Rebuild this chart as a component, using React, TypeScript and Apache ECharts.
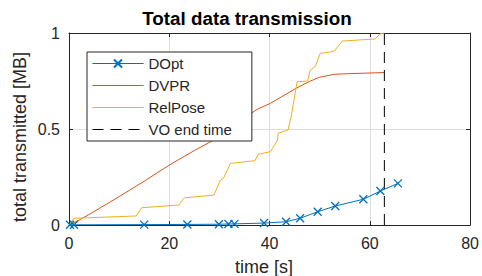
import React, { useEffect, useRef } from "react";
import * as echarts from "echarts";

const titleText = "Total data transmission";
const xLabel = "time [s]";
const yLabel = "total transmitted [MB]";
const seriesNames = ["DOpt", "DVPR", "RelPose", "VO end time"];

const doptX = [0.2, 1.0, 15.0, 23.6, 29.9, 31.8, 33.0, 38.9, 43.3, 46.1, 49.6, 53.1, 58.7, 62.1, 65.6];
const doptY = [0.001, 0.001, 0.002, 0.003, 0.004, 0.005, 0.006, 0.01, 0.017, 0.035, 0.069, 0.099, 0.134, 0.177, 0.217];

const dvprX = [0, 2, 5, 10, 15, 20, 25, 28.9, 33, 36.1, 37.7, 40.2, 45.3, 48, 49.9, 52.9, 55.5, 62.9];
const dvprY = [0, 0.025, 0.07, 0.148, 0.228, 0.312, 0.388, 0.443, 0.52, 0.578, 0.605, 0.634, 0.712, 0.748, 0.769, 0.785, 0.788, 0.794];

const relX = [0, 0.5, 1.0, 13.4, 14.0, 14.5, 21.9, 22.9, 23.2, 28.9, 30.2, 30.8, 32.2, 37.1, 37.7, 40.2, 40.6, 41.6, 41.7, 43.7, 44.3, 45.5, 47.6, 48.1, 49.1, 50.1, 51.9, 52.9, 54.5, 61.1, 62.0, 62.9];
const relY = [0, 0.017, 0.035, 0.047, 0.07, 0.09, 0.104, 0.139, 0.142, 0.156, 0.234, 0.243, 0.321, 0.335, 0.368, 0.382, 0.4, 0.443, 0.478, 0.495, 0.564, 0.746, 0.75, 0.807, 0.824, 0.894, 0.9, 0.906, 0.958, 0.969, 0.995, 1.0];

const voEndTime = 62.9;
const voY = [0, 1];

const xTicks = { min: 0, max: 80, interval: 20 };
const yTicks = { min: 0, max: 1, interval: 0.5 };

const FONT = "Liberation Sans, Arial, Helvetica, sans-serif";
const AX = "#262626";

const zip = (xs: number[], ys: number[]) => xs.map((x, i) => [x, ys[i]]);

export default function App() {
  const ref = useRef<HTMLDivElement>(null);
  useEffect(() => {
    if (!ref.current) return;
    const chart = echarts.init(ref.current, null, { renderer: "svg" });
    const axisCommon = {
      type: "value" as const,
      axisLine: { show: true, onZero: false, lineStyle: { color: AX, width: 1 } },
      axisTick: { show: true, inside: true, length: 4, lineStyle: { color: AX, width: 1 } },
    };
    chart.setOption({
      animation: false,
      backgroundColor: "#fff",
      grid: { left: 69, right: 8, top: 33, bottom: 51 },
      xAxis: [
        {
          ...axisCommon,
          ...xTicks,
          position: "bottom",
          axisLabel: { color: AX, fontSize: 16, fontFamily: FONT, margin: 10 },
          splitLine: { show: true, lineStyle: { color: "#dedede", width: 1 } },
        },
        {
          ...axisCommon,
          ...xTicks,
          position: "top",
          axisLabel: { show: false },
          splitLine: { show: false },
        },
      ],
      yAxis: [
        {
          ...axisCommon,
          ...yTicks,
          position: "left",
          axisLabel: { color: AX, fontSize: 16, fontFamily: FONT, margin: 9 },
          splitLine: { show: true, lineStyle: { color: "#dedede", width: 1 } },
        },
        {
          ...axisCommon,
          ...yTicks,
          position: "right",
          axisLabel: { show: false },
          splitLine: { show: false },
        },
      ],
      legend: {
        data: [
          { name: seriesNames[0] },
          { name: seriesNames[1], itemStyle: { opacity: 0 } },
          { name: seriesNames[2], itemStyle: { opacity: 0 } },
          { name: seriesNames[3], itemStyle: { opacity: 0 } },
        ],
        orient: "vertical",
        left: 87,
        top: 52,
        padding: [4, 20, 4, 5],
        itemGap: 7,
        itemWidth: 51,
        itemHeight: 10,
        borderColor: AX,
        borderWidth: 1,
        backgroundColor: "#fff",
        lineStyle: { width: 1 },
        textStyle: { color: AX, fontSize: 15, fontFamily: FONT },
        selectedMode: false,
      },
      graphic: [
        {
          type: "text",
          x: 247,
          y: 18,
          style: {
            text: titleText,
            fontSize: 18.8,
            fontWeight: "bold",
            fontFamily: FONT,
            fill: "#000",
            align: "center",
            verticalAlign: "middle",
          },
        },
        {
          type: "text",
          x: 264,
          y: 267,
          style: {
            text: xLabel,
            fontSize: 18,
            fontFamily: FONT,
            fill: AX,
            align: "center",
            verticalAlign: "middle",
          },
        },
        {
          type: "text",
          x: 20,
          y: 137,
          rotation: Math.PI / 2,
          style: {
            text: yLabel,
            fontSize: 18,
            fontFamily: FONT,
            fill: AX,
            align: "center",
            verticalAlign: "middle",
          },
        },
      ],
      series: [
        {
          name: seriesNames[0],
          type: "line",
          data: zip(doptX, doptY),
          symbol: "path://M0,0L10,10M0,10L10,0",
          symbolSize: 8,
          showSymbol: true,
          lineStyle: { color: "#0072BD", width: 1 },
          itemStyle: { color: "#0072BD", borderColor: "#0072BD", borderWidth: 1.3 },
          silent: true,
        },
        {
          name: seriesNames[1],
          type: "line",
          data: zip(dvprX, dvprY),
          symbol: "none",
          lineStyle: { color: "#D95319", width: 1 },
          itemStyle: { color: "#D95319" },
          silent: true,
        },
        {
          name: seriesNames[2],
          type: "line",
          data: zip(relX, relY),
          symbol: "none",
          lineStyle: { color: "#EDB120", width: 1 },
          itemStyle: { color: "#EDB120" },
          silent: true,
        },
        {
          name: seriesNames[3],
          type: "line",
          data: voY.map((y) => [voEndTime, y]),
          symbol: "none",
          lineStyle: { color: "#000", width: 1, type: [11, 7] },
          itemStyle: { color: "#000" },
          silent: true,
        },
      ],
    });
    return () => chart.dispose();
  }, []);
  return <div ref={ref} style={{ position: "absolute", left: 0, top: 0, width: 482, height: 276 }} />;
}
